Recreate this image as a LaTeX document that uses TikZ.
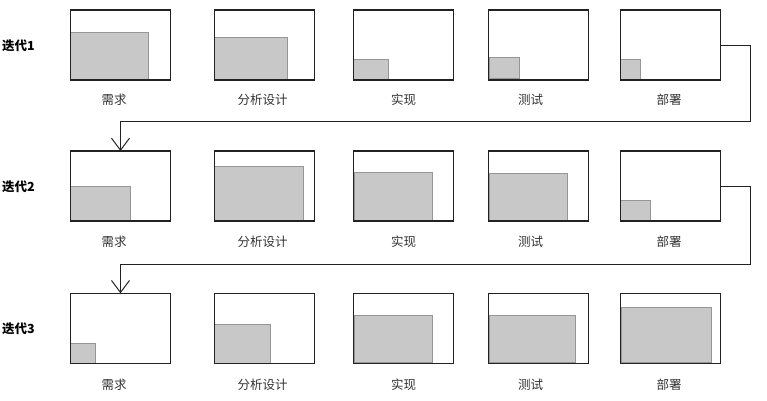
\documentclass[tikz,border=0pt]{standalone}
\usepackage{fontspec}
\setmainfont{Noto Sans CJK SC}
\usetikzlibrary{arrows.meta}
\definecolor{fillc}{HTML}{C8C8C8}
\definecolor{filledge}{HTML}{969696}
\definecolor{framec}{HTML}{222222}
\tikzset{
  frame/.style={draw=framec, line width=1.05pt, minimum width=100.4pt, minimum height=70pt, inner sep=0pt, outer sep=0pt},
  work/.style={fill=fillc, draw=filledge, line width=1pt},
  lab/.style={font=\fontsize{12.5pt}{14pt}\selectfont, text=black!80, inner sep=0pt},
  rowlab/.style={font=\fontsize{12.5pt}{14pt}\selectfont\bfseries, anchor=west, inner sep=0pt},
  conn/.style={draw=framec, line width=1pt},
  arr/.style={conn, -{Straight Barb[length=12pt, width=18pt, line width=1pt]}}
}
\begin{document}
\begin{tikzpicture}[x=1pt, y=-1pt]
\useasboundingbox (0,0) rectangle (767,400);
% row labels
\node[rowlab] (r1) at (2,46) {迭代1};
\node[rowlab] (r2) at (2,187) {迭代2};
\node[rowlab] (r3) at (2,329) {迭代3};
% fills row 1
\draw[work] (70.3,32) rectangle (148.3,80);
\draw[work] (214.3,37) rectangle (287.7,80);
\draw[work] (353.3,59.3) rectangle (388.7,80);
\draw[work] (489.3,57.3) rectangle (519.7,78.3);
\draw[work] (620.3,59.3) rectangle (640.7,80);
% fills row 2
\draw[work] (70.3,186.3) rectangle (130.3,221);
\draw[work] (214.3,166) rectangle (303.3,221);
\draw[work] (354.3,172.3) rectangle (432.3,220.3);
\draw[work] (489.3,173.3) rectangle (567.7,220.3);
\draw[work] (620.3,200.3) rectangle (650.7,221);
% fills row 3
\draw[work] (70.3,343.3) rectangle (95.7,363.3);
\draw[work] (214.3,324) rectangle (270.7,363.3);
\draw[work] (354.3,315) rectangle (432.3,362.7);
\draw[work] (489.3,315) rectangle (575.7,362.7);
\draw[work] (621.3,307) rectangle (711.7,362.7);
% frames
\foreach \r/\y in {1/45,2/186,3/328.3}{
  \node[frame] (f\r1) at (120.5,\y) {};
  \node[frame] (f\r2) at (264.3,\y) {};
  \node[frame] (f\r3) at (403.5,\y) {};
  \node[frame] (f\r4) at (538.5,\y) {};
  \node[frame] (f\r5) at (670.5,\y) {};
}
% labels
\foreach \r/\y in {1/100,2/242,3/385}{
  \node[lab] (l\r1) at (114,\y) {需求};
  \node[lab] (l\r2) at (262.5,\y) {分析设计};
  \node[lab] (l\r3) at (403.5,\y) {实现};
  \node[lab] (l\r4) at (530.5,\y) {测试};
  \node[lab] (l\r5) at (669,\y) {部署};
}
% connectors
\coordinate (c1) at (750.7,121);
\coordinate (c2) at (750.7,264);
\draw[arr] (f15.east) -| (c1) -| (f21.north);
\draw[arr] (f25.east) -| (c2) -| (f31.north);
\end{tikzpicture}
\end{document}
